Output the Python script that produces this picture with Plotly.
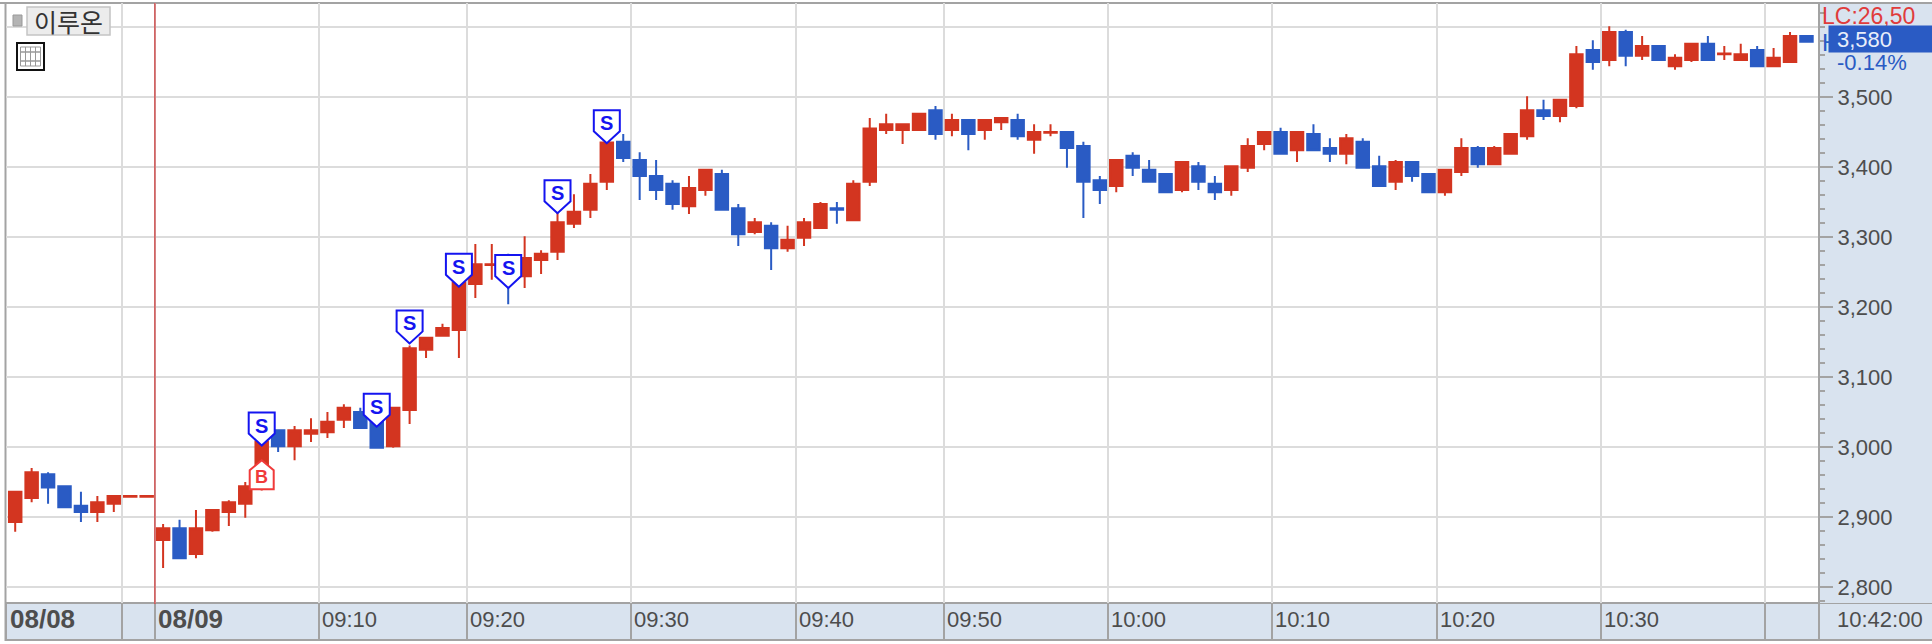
import plotly.graph_objects as go

W, H = 1932, 644
L, R, T, B = 6.0, 1818.6, 3.0, 603.0

# one bar per minute shown
opens = [2893,2927,2961,2944,2916,2907,2919,2929,2929,2867,2884,2847,2881,2907,2919,2944,3024,3001,3019,3021,3039,3050,3036,3001,3053,3139,3159,3167,
         3233,3260,3262,3244,3267,3279,3319,3339,3379,3436,3410,3387,3376,3344,3367,3390,3341,3307,3316,3284,3299,3313,3341,3324,3379,3453,3453,3453,3481,3453,3467,3453,3464,3467,3439,3449,3450,3430,3381,3373,3416,3396,3390,3367,3401,3376,3367,3399,3433,3450,
         3424,3447,3427,3419,3436,3401,3379,3407,3390,3364,3393,3427,3404,3419,3444,3481,3473,3487,3567,3553,3593,3559,3573,3544,3553,3576,3561,3553,3567,3544,3550,3587]
highs = [2936,2970,2964,2944,2936,2930,2930,2930,2930,2890,2896,2910,2910,2924,2950,3010,3024,3030,3041,3050,3061,3056,3036,3056,3145,3156,3176,3236,
         3290,3290,3276,3301,3281,3335,3361,3390,3436,3447,3421,3410,3381,3387,3396,3396,3347,3327,3321,3316,3327,3350,3350,3381,3470,3476,3461,3476,3487,3476,3467,3467,3470,3476,3461,3461,3450,3436,3387,3410,3421,3410,3390,3407,3407,3387,3401,3441,3450,3456,
         3450,3461,3441,3447,3441,3416,3410,3407,3390,3396,3441,3430,3430,3447,3501,3496,3496,3573,3581,3601,3596,3587,3573,3561,3576,3587,3573,3576,3573,3570,3593,3587]
lows = [2879,2921,2919,2914,2893,2893,2907,2929,2929,2827,2841,2841,2879,2887,2899,2938,2993,2981,3007,3013,3027,3027,2999,2999,3033,3127,3159,3127,
        3213,3239,3204,3227,3247,3267,3313,3327,3367,3407,3353,3353,3339,3333,3359,3339,3287,3304,3253,3279,3287,3313,3319,3324,3373,3447,3433,3453,3439,3444,3424,3439,3453,3439,3419,3444,3399,3327,3347,3364,3387,3379,3364,3364,3367,3353,3359,3393,3424,3419,
        3407,3424,3407,3404,3399,3373,3367,3379,3364,3359,3387,3399,3404,3419,3439,3467,3464,3484,3539,3544,3544,3553,3553,3539,3550,3553,3553,3553,3544,3544,3550,3579]
closes = [2936,2964,2942,2914,2907,2921,2930,2930,2930,2884,2841,2884,2910,2921,2944,3008,3001,3024,3024,3036,3056,3027,2999,3056,3141,3156,3170,3235,
          3261,3261,3250,3270,3276,3321,3336,3376,3435,3413,3387,3367,3347,3370,3396,3339,3304,3321,3284,3296,3321,3347,3339,3376,3455,3461,3461,3476,3447,3467,3447,3467,3470,3444,3450,3450,3427,3379,3367,3410,3399,3379,3364,3407,3379,3364,3401,3430,3450,3419,
          3450,3424,3419,3441,3399,3373,3407,3387,3364,3396,3427,3404,3427,3447,3481,3473,3496,3561,3550,3593,3559,3573,3553,3556,3576,3553,3562,3561,3544,3556,3587,3579]
sell_bars = [15, 22, 24, 27, 30, 33, 36]
sell_prices = [3002, 3029, 3148, 3229, 3227, 3334, 3434]
buy_bars = [15]
buy_prices = [2981]
grid_bars = [6.5, 8.5, 18.5, 27.5, 37.5, 47.5, 56.5, 66.5, 76.5, 86.5, 96.5, 106.5]
time_labels = ["", "08/09", "09:10", "09:20", "09:30", "09:40", "09:50", "10:00", "10:10", "10:20", "10:30", ""]
price_ticks = [2800, 2900, 3000, 3100, 3200, 3300, 3400, 3500, 3600]
price_labels = ["2,800", "2,900", "3,000", "3,100", "3,200", "3,300", "3,400", "3,500", ""]
session_break = 8.5
first_date = "08/08"
clock_label = "10:42:00"
last_price = "3,580"
last_pct = "-0.14%"
limit_label = "LC:26,50"
title_label = "이루온"

RED, BLUE = "#d33520", "#2a5bc4"
GRID, EDGE, PANEL = "#dcdcdc", "#a3a3a3", "#d9e3ef"
FONT = "Liberation Sans"
TXT = "#4d4d4d"

def px(v): return (v - L) / (R - L)
def py(v): return (B - v) / (B - T)

bars = list(range(len(opens)))
xmin = (L - 15.2) / 16.43
xmax = (R - 15.2) / 16.43
ymin = 3500 - (B - 97) / 0.7
ymax = 3500 - (T - 97) / 0.7

fig = go.Figure(go.Candlestick(
    x=bars, open=opens, high=highs, low=lows, close=closes,
    increasing=dict(line=dict(color=RED, width=2), fillcolor=RED),
    decreasing=dict(line=dict(color=BLUE, width=2), fillcolor=BLUE),
    whiskerwidth=0, hoverinfo="skip", showlegend=False))

shapes = []
def box(x0, y0, x1, y1, fill=None, line=None, lw=1, layer="above"):
    shapes.append(dict(type="rect", xref="paper", yref="paper", x0=px(x0), x1=px(x1), y0=py(y0), y1=py(y1),
                       fillcolor=fill or "rgba(0,0,0,0)", line=dict(color=line or "rgba(0,0,0,0)", width=lw if line else 0), layer=layer))

box(L, B, W + 2, 640, fill=PANEL, line=EDGE, lw=2, layer="below")
box(R, T, W + 2, B, fill=PANEL, layer="below")
box(0, 2, W + 2, 4, fill=EDGE, layer="below")
box(4.5, 2, 6.5, 641, fill=EDGE, layer="below")
box(R - 1, T, R + 1, 640, fill=EDGE, layer="above")

shapes.append(dict(type="line", xref="x", yref="paper", x0=session_break, x1=session_break, y0=py(604), y1=1,
                   line=dict(color="#d05050", width=1.5), layer="above"))

# top-left controls
box(27, 7, 110, 35, fill="#ececec", line="#c4c4c4", lw=1.5)
box(13, 15, 22, 26, fill="#b4b4b4", line="#999999", lw=1)
box(17, 43, 44, 70, fill="#ffffff", line="#111111", lw=2)
box(20.5, 47, 40.5, 66, fill="#ffffff", line="#999999", lw=1)
for xv in (25.5, 30.5, 35.5):
    box(xv, 47, xv, 66, line="#999999", lw=1)
for yv in (52, 61):
    box(20.5, yv, 40.5, yv, line="#999999", lw=1)

S_PATH = "M 0 0 L -13 12 L -13 33 L 13 33 L 13 12 Z"
B_PATH = "M 0 0 L -12 -10 L -12 -29 L 12 -29 L 12 -10 Z"
for bx, pr in zip(sell_bars, sell_prices):
    shapes.append(dict(type="path", xref="x", yref="y", xsizemode="pixel", ysizemode="pixel", xanchor=bx, yanchor=pr,
                       path=S_PATH, fillcolor="#ffffff", line=dict(color="#1414f0", width=2), layer="above"))
for bx, pr in zip(buy_bars, buy_prices):
    shapes.append(dict(type="path", xref="x", yref="y", xsizemode="pixel", ysizemode="pixel", xanchor=bx, yanchor=pr,
                       path=B_PATH, fillcolor="#ffffff", line=dict(color="#f03a3a", width=2), layer="above"))

ann = []
for bx, pr in zip(sell_bars, sell_prices):
    ann.append(dict(x=bx, y=pr, xref="x", yref="y", text="<b>S</b>", showarrow=False, yshift=20,
                    font=dict(family=FONT, size=20, color="#1414f0")))
for bx, pr in zip(buy_bars, buy_prices):
    ann.append(dict(x=bx, y=pr, xref="x", yref="y", text="<b>B</b>", showarrow=False, yshift=-17,
                    font=dict(family=FONT, size=18, color="#f03a3a")))

STRIP_Y = py(619)
for gx, lab in zip(grid_bars, time_labels):
    if lab:
        bold = "/" in lab
        ann.append(dict(x=gx, y=STRIP_Y, xref="x", yref="paper", text=f"<b>{lab}</b>" if bold else lab,
                        showarrow=False, xanchor="left", yanchor="middle", xshift=1,
                        font=dict(family=FONT, size=26 if bold else 22, color=TXT)))
ann.append(dict(x=px(8), y=STRIP_Y, xref="paper", yref="paper", text=f"<b>{first_date}</b>", showarrow=False,
                xanchor="left", yanchor="middle", font=dict(family=FONT, size=26, color=TXT)))
ann.append(dict(x=px(1835), y=STRIP_Y, xref="paper", yref="paper", text=clock_label, showarrow=False,
                xanchor="left", yanchor="middle", font=dict(family=FONT, size=22, color=TXT)))
ann.append(dict(x=px(1820), y=py(16), xref="paper", yref="paper", text=limit_label, showarrow=False,
                xanchor="left", yanchor="middle", font=dict(family=FONT, size=23, color="#e03c3c")))
ann.append(dict(x=px(1820), y=py(43), xref="paper", yref="paper", text="H", showarrow=False,
                xanchor="left", yanchor="middle", font=dict(family=FONT, size=24, color=BLUE)))
# last-price box, then its value
ann.append(dict(x=px(1828), y=py(39), xref="paper", yref="paper", text="&nbsp;", showarrow=False, xanchor="left", yanchor="middle",
                width=106, height=26, bgcolor=BLUE, borderpad=0, font=dict(size=10, color=BLUE)))
ann.append(dict(x=px(1835), y=py(39), xref="paper", yref="paper", text=last_price, showarrow=False,
                xanchor="left", yanchor="middle", font=dict(family=FONT, size=22, color="#e8eefa")))
ann.append(dict(x=px(1835), y=py(63), xref="paper", yref="paper", text=last_pct, showarrow=False,
                xanchor="left", yanchor="middle", font=dict(family=FONT, size=22, color=BLUE)))
ann.append(dict(x=px(68.5), y=py(21), xref="paper", yref="paper", text=title_label, showarrow=False,
                xanchor="center", yanchor="middle", font=dict(family="Noto Sans CJK KR", size=25, color="#333333")))

fig.update_layout(
    width=W, height=H, autosize=False,
    margin=dict(l=L, r=W - R, t=T, b=H - B, pad=0),
    paper_bgcolor="#ffffff", plot_bgcolor="#ffffff",
    boxgap=0.24, boxgroupgap=0,
    shapes=shapes, annotations=ann, showlegend=False, hovermode=False,
    xaxis=dict(type="linear", range=[xmin, xmax], rangeslider=dict(visible=False), tickmode="array",
               tickvals=grid_bars, showticklabels=False, showgrid=True, gridcolor=GRID, gridwidth=2,
               ticks="outside", ticklen=37, tickwidth=2, tickcolor=EDGE, zeroline=False, showline=False),
    yaxis=dict(side="right", range=[ymin, ymax], tickmode="array", tickvals=price_ticks, ticktext=price_labels,
               showgrid=True, gridcolor=GRID, gridwidth=2, zeroline=False, showline=False,
               ticks="outside", ticklen=13, tickwidth=2, tickcolor=EDGE,
               minor=dict(tickmode="array", tickvals=list(range(2780, 3640, 20)), ticks="outside", ticklen=5,
                          tickwidth=2, tickcolor=EDGE, showgrid=False),
               tickfont=dict(family=FONT, size=22, color=TXT)),
    font=dict(family=FONT),
)

fig.write_html("out.html", config=dict(displayModeBar=False),
               post_script="document.body.style.margin='0';document.body.style.overflow='hidden';")
